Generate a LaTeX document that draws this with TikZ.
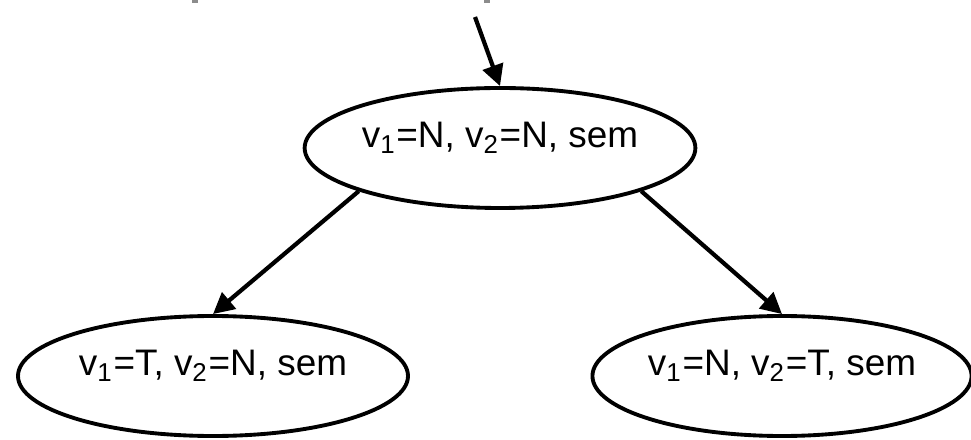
\documentclass[tikz,border=0pt]{standalone}
\usepackage{fontspec}
\setmainfont{Liberation Sans}
\usetikzlibrary{shapes, arrows.meta, positioning}

\begin{document}
\begin{tikzpicture}[
    cfg/.style={ellipse, draw, line width=1.1pt, minimum width=3.86cm, minimum height=1.2cm,
        inner sep=0pt, text height=0.25cm, text depth=0.25cm, font=\fontsize{10.5}{13}\selectfont},
    edge/.style={-{Triangle[length=6pt,width=6pt]}, line width=1.2pt}
]
    \useasboundingbox (0,0) rectangle (9.71,4.39);
    % cut-off marks at the top
    \fill[gray!90] (1.92,4.36) rectangle (1.98,4.39);
    \fill[gray!90] (4.84,4.36) rectangle (4.90,4.39);

    % search states
    \node[cfg] (root) at (5.00,2.91) {v\textsubscript{1}=N, v\textsubscript{2}=N, sem};
    \node[cfg, minimum width=3.9cm] (left) at (2.13,0.63) {v\textsubscript{1}=T, v\textsubscript{2}=N, sem};
    \node[cfg, minimum width=3.78cm] (right) at (7.82,0.63) {v\textsubscript{1}=N, v\textsubscript{2}=T, sem};

    % branches
    \coordinate (in) at (4.75,4.22);
    \draw[edge] (in) -- (root.north);
    \draw[edge] (root.197) -- (left.north);
    \draw[edge] (root.343) -- (right.north);
\end{tikzpicture}
\end{document}
